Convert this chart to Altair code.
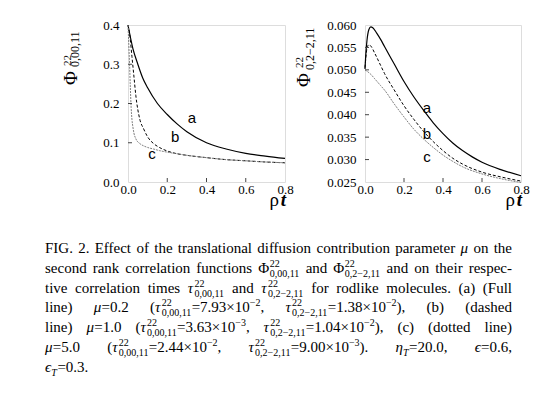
import altair as alt
import pandas as pd

# ---------------- data ----------------
# left panel  Phi^22_{0,00,11}(rho t)
t_l_a = [0, 0.025, 0.05, 0.075, 0.1, 0.15, 0.2, 0.25, 0.3, 0.4, 0.5, 0.6, 0.7, 0.8]
v_l_a = [0.40, 0.34, 0.30, 0.265, 0.24, 0.20, 0.172, 0.148, 0.128, 0.10, 0.084, 0.073, 0.066, 0.060]
t_l_b = [0, 0.01, 0.02, 0.03, 0.04, 0.06, 0.08, 0.1, 0.13, 0.16, 0.2, 0.25, 0.3, 0.4, 0.5, 0.6, 0.7, 0.8]
v_l_b = [0.40, 0.37, 0.32, 0.27, 0.22, 0.16, 0.135, 0.115, 0.098, 0.088, 0.079, 0.072, 0.068, 0.062, 0.057, 0.054, 0.051, 0.049]
t_l_c = [0, 0.004, 0.008, 0.012, 0.016, 0.02, 0.025, 0.03, 0.04, 0.06, 0.08, 0.1, 0.13, 0.16, 0.2, 0.25, 0.3, 0.4, 0.5, 0.6, 0.7, 0.8]
v_l_c = [0.40, 0.35, 0.30, 0.24, 0.19, 0.16, 0.14, 0.125, 0.11, 0.098, 0.092, 0.088, 0.084, 0.080, 0.076, 0.072, 0.068, 0.062, 0.057, 0.054, 0.051, 0.049]

# right panel  Phi^22_{0,2-2,11}(rho t)
t_r_a = [0, 0.005, 0.01, 0.02, 0.03, 0.04, 0.06, 0.08, 0.1, 0.15, 0.2, 0.25, 0.3, 0.35, 0.4, 0.45, 0.5, 0.55, 0.6, 0.7, 0.8]
v_r_a = [0.0502, 0.0540, 0.0565, 0.0590, 0.0596, 0.0594, 0.0582, 0.0568, 0.0552, 0.0513, 0.0474, 0.0440, 0.0410, 0.0382, 0.0358, 0.0337, 0.0320, 0.0306, 0.0294, 0.0277, 0.0264]
t_r_b = [0, 0.005, 0.01, 0.02, 0.03, 0.05, 0.08, 0.1, 0.15, 0.2, 0.25, 0.3, 0.35, 0.4, 0.45, 0.5, 0.6, 0.7, 0.8]
v_r_b = [0.0505, 0.0530, 0.0548, 0.0556, 0.0553, 0.0537, 0.0510, 0.0492, 0.0455, 0.0420, 0.0390, 0.0363, 0.0340, 0.0320, 0.0303, 0.0290, 0.0272, 0.0261, 0.0252]
t_r_c = [0, 0.01, 0.03, 0.05, 0.08, 0.1, 0.15, 0.2, 0.25, 0.3, 0.35, 0.4, 0.45, 0.5, 0.6, 0.7, 0.8]
v_r_c = [0.0500, 0.0497, 0.0490, 0.0480, 0.0465, 0.0455, 0.0424, 0.0395, 0.0368, 0.0346, 0.0327, 0.0310, 0.0296, 0.0284, 0.0268, 0.0257, 0.0249]

curve_letters = ["a", "b", "c"]
lab_l_t = [0.326, 0.24, 0.122]
lab_l_v = [0.163, 0.115, 0.071]
lab_r_t = [0.318, 0.318, 0.318]
lab_r_v = [0.0416, 0.0357, 0.0306]

x_ticks = [0.0, 0.2, 0.4, 0.6, 0.8]
y_ticks_l = [0.0, 0.1, 0.2, 0.3, 0.4]
y_ticks_r = [0.025, 0.030, 0.035, 0.040, 0.045, 0.050, 0.055, 0.060]

caption_lines = [
    "FIG. 2. Effect of the translational diffusion contribution parameter μ on the",
    "second rank correlation functions Φ^{22}_{0,00,11} and Φ^{22}_{0,2−2,11} and on their respec-",
    "tive correlation times τ^{22}_{0,00,11} and τ^{22}_{0,2−2,11} for rodlike molecules. (a) (Full",
    "line) μ=0.2 (τ^{22}_{0,00,11}=7.93×10^{−2}, τ^{22}_{0,2−2,11}=1.38×10^{−2}), (b) (dashed",
    "line) μ=1.0 (τ^{22}_{0,00,11}=3.63×10^{−3}, τ^{22}_{0,2−2,11}=1.04×10^{−2}), (c) (dotted line)",
    "μ=5.0 (τ^{22}_{0,00,11}=2.44×10^{−2}, τ^{22}_{0,2−2,11}=9.00×10^{−3}). η_{T}=20.0, ϵ=0.6,",
    "ϵ_{T}=0.3.",
]

# ---------------- style ----------------
SERIF = "Liberation Serif"
FRAME = "#444444"
W_L, H_L = 157, 157
W_R, H_R = 156, 157
X_DOM = [0, 0.8]

# ---------------- caption layout (Times metrics) ----------------
WID = {" ": 250, "(": 333, ")": 333, ",": 250, "-": 333, ".": 250, "=": 564, "×": 564, "−": 564,
       "A": 722, "B": 667, "C": 667, "D": 722, "E": 611, "F": 556, "G": 722, "H": 722, "I": 333,
       "T": 611, "a": 444, "b": 500, "c": 444, "d": 500, "e": 444, "f": 333, "g": 500, "h": 500,
       "i": 278, "j": 278, "k": 500, "l": 278, "m": 778, "n": 500, "o": 500, "p": 500, "q": 500,
       "r": 333, "s": 389, "t": 278, "u": 500, "v": 500, "w": 722, "x": 500, "y": 500, "z": 444,
       "μ": 520, "τ": 440, "η": 500, "ϵ": 420, "Φ": 763}
GREEK_IT = set("μτηϵ")
MAIN, SCRIPT = 15, 10
SUP_DY, SUB_DY = -6, 4


def tw(s, size):
    return sum(WID.get(c, 500) for c in s) * size / 1000.0


def parse_word(word):
    runs = []
    x = 0.0
    i = 0
    n = len(word)
    while i < n:
        if word[i] in "^_" and i + 1 < n and word[i + 1] == "{":
            adv = 0.0
            while i < n and word[i] in "^_" and i + 1 < n and word[i + 1] == "{":
                j = word.index("}", i)
                s = word[i + 2:j]
                dy = SUP_DY if word[i] == "^" else SUB_DY
                runs.append((s, x, dy, SCRIPT, s.isalpha()))
                adv = max(adv, tw(s, SCRIPT))
                i = j + 1
            x += adv
        else:
            it = word[i] in GREEK_IT
            j = i
            while j < n and not (word[j] in "^_" and j + 1 < n and word[j + 1] == "{") and (word[j] in GREEK_IT) == it:
                j += 1
            s = word[i:j]
            runs.append((s, x, 0, MAIN, it))
            x += tw(s, MAIN)
            i = j
    return runs, x


def layout(lines, x0, y0, pitch, width):
    rows = []
    for li, line in enumerate(lines):
        words = [parse_word(w) for w in line.split(" ")]
        total = sum(w for _, w in words)
        gaps = len(words) - 1
        if li < len(lines) - 1 and gaps > 0:
            gap = (width - total) / gaps
        else:
            gap = tw(" ", MAIN) + 1
        x = x0
        for runs, w in words:
            for (s, dx, dy, size, it) in runs:
                rows.append({"text": s, "x": x + dx, "y": y0 + li * pitch + dy,
                             "size": size, "italic": it})
            x += w + gap
    return pd.DataFrame(rows)


PLOT_X, PLOT_Y = 128, 25
ROW_GAP = 10
CAP_Y = PLOT_Y + H_L + ROW_GAP
cap_df = layout(caption_lines, x0=45 - PLOT_X, y0=253 - CAP_Y, pitch=19.8, width=467)


# ---------------- panels ----------------
def panel(curves, ydom, yticks, yfmt, lab_t, lab_v, w, h, title_pieces):
    xs = alt.Scale(domain=X_DOM, nice=False, zero=False)
    ys = alt.Scale(domain=ydom, nice=False, zero=False)
    xax = alt.Axis(values=x_ticks, format=".1f", ticks=False, tickSize=0, domain=False, grid=False,
                   labelPadding=1, labelFont=SERIF, labelFontSize=13, labelColor="black",
                   labelFlush=False, labelOverlap=False, title=None)
    yax = alt.Axis(values=yticks, format=yfmt, ticks=False, tickSize=0, domain=False, grid=False,
                   labelPadding=9, labelFont=SERIF, labelFontSize=13, labelColor="black",
                   labelOverlap=False, title=None)
    X = lambda f: alt.X(f, scale=xs, axis=xax)
    Y = lambda f: alt.Y(f, scale=ys, axis=yax)
    layers = []
    styles = [dict(color="black", strokeWidth=1.2),
              dict(color="black", strokeWidth=1.0, strokeDash=[3, 2]),
              dict(color="#808080", strokeWidth=1.0, strokeDash=[2, 1])]
    for k, (tt, vv) in enumerate(curves):
        df = pd.DataFrame({"t": tt, "v": vv})
        layers.append(alt.Chart(df).mark_line(interpolate="monotone", **styles[k]).encode(
            x=X("t:Q"), y=Y("v:Q")))
    # inward ticks
    yt = pd.DataFrame({"v": yticks[1:-1]})
    layers.append(alt.Chart(yt).mark_rule(color=FRAME, strokeWidth=1).encode(
        y=Y("v:Q"), x=alt.value(0), x2=alt.value(4)))
    xt = pd.DataFrame({"t": x_ticks[1:-1]})
    layers.append(alt.Chart(xt).mark_rule(color=FRAME, strokeWidth=1).encode(
        x=X("t:Q"), y=alt.value(h), y2=alt.value(h - 4)))
    # curve letters
    lab = pd.DataFrame({"t": lab_t, "v": lab_v, "txt": curve_letters})
    layers.append(alt.Chart(lab).mark_text(font="Liberation Sans", fontSize=15, color="black").encode(
        x=X("t:Q"), y=Y("v:Q"), text="txt:N"))
    # rotated y title  Phi^22_sub : pieces placed through the panel scales
    rows = []
    for txt, fs, px, py in title_pieces:
        rows.append({"txt": txt, "fs": fs,
                     "t": X_DOM[0] + px / w * (X_DOM[1] - X_DOM[0]),
                     "v": ydom[0] + (1 - py / h) * (ydom[1] - ydom[0])})
    tdf = pd.DataFrame(rows)
    layers.append(alt.Chart(tdf).mark_text(font=SERIF, angle=270, align="left",
                                           baseline="alphabetic", color="black").encode(
        x=X("t:Q"), y=Y("v:Q"), text="txt:N", size=alt.Size("fs:Q", scale=None, legend=None)))
    # x title  rho t
    layers.append(alt.Chart().mark_text(text="ρ", font=SERIF, fontSize=19, align="right",
                                        baseline="alphabetic", color="black").encode(
        x=alt.value(w - 6), y=alt.value(h + 24)))
    layers.append(alt.Chart().mark_text(text="t", font=SERIF, fontSize=19, fontStyle="italic",
                                        fontWeight="bold", align="right", baseline="alphabetic",
                                        color="black").encode(
        x=alt.value(w + 1), y=alt.value(h + 24)))
    return alt.layer(*layers).properties(width=w, height=h)


left = panel([(t_l_a, v_l_a), (t_l_b, v_l_b), (t_l_c, v_l_c)], [0, 0.4], y_ticks_l, ".1f",
             lab_l_t, lab_l_v, W_L, H_L,
             [("Φ", 19, -51.5, 60), ("22", 11, -57, 41), ("0,00,11", 12, -49, 42)])
right = panel([(t_r_a, v_r_a), (t_r_b, v_r_b), (t_r_c, v_r_c)], [0.025, 0.060], y_ticks_r, ".3f",
              lab_r_t, lab_r_v, W_R, H_R,
              [("Φ", 19, -55, 62), ("22", 11, -62, 43), ("0,2−2,11", 12, -51.5, 45)])

cap_layers = []
for it, style in [(False, "normal"), (True, "italic")]:
    sub_df = cap_df[cap_df["italic"] == it]
    cap_layers.append(alt.Chart(sub_df).mark_text(
        font=SERIF, fontStyle=style, align="left", baseline="alphabetic", color="black").encode(
        x=alt.X("x:Q", scale=None, axis=None), y=alt.Y("y:Q", scale=None, axis=None), text="text:N",
        size=alt.Size("size:Q", scale=None, legend=None)))
caption = alt.layer(*cap_layers).properties(width=W_L, height=185,
                                            view=alt.ViewBackground(strokeOpacity=0))

chart = alt.concat(left, right, caption, columns=2, bounds="flush",
                   spacing={"row": ROW_GAP, "column": 80}).properties(
    padding={"left": 37, "top": 10, "right": 0, "bottom": 0}
).configure_view(stroke=FRAME, strokeWidth=1).configure_axis(
    labelOverlap=False, labelFlush=False, labelFont=SERIF, labelFontSize=13, labelColor="black"
).configure_axisX(labelFont=SERIF).configure_axisY(labelFont=SERIF).configure(
    background="white", font=SERIF)

chart.save("out.html", embed_options={"renderer": "svg", "actions": False})
